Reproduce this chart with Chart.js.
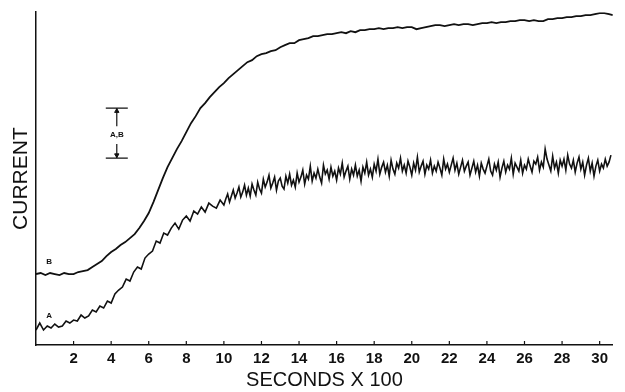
<!DOCTYPE html>
<html>
<head>
<meta charset="utf-8">
<script src="https://cdn.jsdelivr.net/npm/chart.js@4.4.1/dist/chart.umd.min.js"></script>
<style>
  html, body { margin: 0; padding: 0; background: #fff; }
  #wrap { width: 625px; height: 392px; }
</style>
</head>
<body>
<div id="wrap"><canvas id="chart" width="625" height="392"></canvas></div>
<script>
// trace B (upper, smoother) - time in s x 100, current in arbitrary units
const timesB = [0, 0.25, 0.5, 0.75, 1, 1.25, 1.5, 1.75, 2, 2.25, 2.5, 2.75, 3, 3.25, 3.5, 3.75,
  4, 4.25, 4.5, 4.75, 5, 5.25, 5.5, 5.75, 6, 6.25, 6.5, 6.75, 7, 7.25, 7.5, 7.75,
  8, 8.25, 8.5, 8.75, 9, 9.25, 9.5, 9.75, 10, 10.25, 10.5, 10.75, 11, 11.25, 11.5, 11.75,
  12, 12.25, 12.5, 12.75, 13, 13.25, 13.5, 13.75, 14, 14.25, 14.5, 14.75, 15, 15.25, 15.5, 15.75,
  16, 16.25, 16.5, 16.75, 17, 17.25, 17.5, 17.75, 18, 18.25, 18.5, 18.75, 19, 19.25, 19.5, 19.75,
  20, 20.25, 20.5, 20.75, 21, 21.25, 21.5, 21.75, 22, 22.25, 22.5, 22.75, 23, 23.25, 23.5, 23.75,
  24, 24.25, 24.5, 24.75, 25, 25.25, 25.5, 25.75, 26, 26.25, 26.5, 26.75, 27, 27.25, 27.5, 27.75,
  28, 28.25, 28.5, 28.75, 29, 29.25, 29.5, 29.75, 30, 30.25, 30.5, 30.7];
const currentB = [71, 72, 70, 72, 71, 70, 72, 71, 71, 73, 74, 75, 78, 81, 84, 89,
  93, 96, 100, 103, 107, 111, 117, 124, 132, 143, 155, 167, 178, 187, 196, 204,
  213, 222, 229, 237, 242, 248, 253, 258, 262, 267, 271, 275, 279, 283, 285, 289,
  291, 292, 294, 295, 298, 300, 302, 302, 305, 306, 307, 309, 309, 310, 311, 311,
  312, 313, 312, 314, 313, 315, 315, 316, 316, 317, 316, 317, 317, 318, 317, 318,
  318, 316, 317, 318, 319, 320, 320, 319, 320, 321, 320, 321, 321, 320, 321, 322,
  322, 323, 322, 323, 323, 324, 324, 325, 325, 324, 325, 324, 324, 326, 326, 327,
  327, 328, 328, 329, 329, 330, 330, 331, 332, 332, 331, 330];

// trace A (lower, noisy)
const timesA = [0, 0.2, 0.4, 0.6, 0.8, 1, 1.2, 1.4, 1.6, 1.8, 2, 2.2, 2.4, 2.6, 2.8, 3, 3.2, 3.4, 3.6, 3.8,
  4, 4.2, 4.4, 4.6, 4.8, 5, 5.2, 5.4, 5.6, 5.8, 6, 6.2, 6.4, 6.6, 6.8, 7, 7.2, 7.4, 7.6, 7.8,
  8, 8.2, 8.4, 8.6, 8.8, 9, 9.2, 9.4, 9.6, 9.8,
  10, 10.1, 10.2, 10.3, 10.4, 10.5, 10.6, 10.7, 10.8, 10.9,
  11, 11.1, 11.2, 11.3, 11.4, 11.5, 11.6, 11.7, 11.8, 11.9,
  12, 12.1, 12.2, 12.3, 12.4, 12.5, 12.6, 12.7, 12.8, 12.9,
  13, 13.1, 13.2, 13.3, 13.4, 13.5, 13.6, 13.7, 13.8, 13.9,
  14, 14.1, 14.2, 14.3, 14.4, 14.5, 14.6, 14.7, 14.8, 14.9,
  15, 15.1, 15.2, 15.3, 15.4, 15.5, 15.6, 15.7, 15.8, 15.9,
  16, 16.1, 16.2, 16.3, 16.4, 16.5, 16.6, 16.7, 16.8, 16.9,
  17, 17.1, 17.2, 17.3, 17.4, 17.5, 17.6, 17.7, 17.8, 17.9,
  18, 18.1, 18.2, 18.3, 18.4, 18.5, 18.6, 18.7, 18.8, 18.9,
  19, 19.1, 19.2, 19.3, 19.4, 19.5, 19.6, 19.7, 19.8, 19.9,
  20, 20.1, 20.2, 20.3, 20.4, 20.5, 20.6, 20.7, 20.8, 20.9,
  21, 21.1, 21.2, 21.3, 21.4, 21.5, 21.6, 21.7, 21.8, 21.9,
  22, 22.1, 22.2, 22.3, 22.4, 22.5, 22.6, 22.7, 22.8, 22.9,
  23, 23.1, 23.2, 23.3, 23.4, 23.5, 23.6, 23.7, 23.8, 23.9,
  24, 24.1, 24.2, 24.3, 24.4, 24.5, 24.6, 24.7, 24.8, 24.9,
  25, 25.1, 25.2, 25.3, 25.4, 25.5, 25.6, 25.7, 25.8, 25.9,
  26, 26.1, 26.2, 26.3, 26.4, 26.5, 26.6, 26.7, 26.8, 26.9,
  27, 27.1, 27.2, 27.3, 27.4, 27.5, 27.6, 27.7, 27.8, 27.9,
  28, 28.1, 28.2, 28.3, 28.4, 28.5, 28.6, 28.7, 28.8, 28.9,
  29, 29.1, 29.2, 29.3, 29.4, 29.5, 29.6, 29.7, 29.8, 29.9,
  30, 30.1, 30.2, 30.3, 30.4, 30.5, 30.6];
const currentA = [15, 22, 15, 19, 17, 21, 18, 19, 24, 22, 25, 24, 30, 27, 29, 35, 33, 39, 37, 44,
  42, 51, 55, 58, 66, 64, 73, 78, 76, 87, 91, 94, 104, 102, 112, 110, 117, 122, 116, 125,
  129, 124, 134, 131, 138, 133, 142, 139, 137, 145,
  140, 146, 151, 143, 149, 155, 147, 152, 158, 148,
  153, 160, 150, 157, 149, 161, 155, 150, 163, 156,
  152, 166, 158, 163, 170, 157, 162, 168, 155, 164,
  167, 159, 156, 169, 162, 171, 160, 165, 158, 172,
  163, 168, 175, 161, 170, 166, 179, 164, 172, 167,
  176, 168, 162, 180, 171, 175, 166, 178, 169, 174,
  165, 177, 171, 182, 168, 174, 179, 166, 176, 170,
  180, 169, 175, 164, 178, 172, 183, 170, 176, 168,
  181, 174, 186, 171, 178, 183, 173, 180, 169, 185,
  176, 171, 182, 177, 187, 174, 180, 172, 184, 178,
  170, 182, 175, 188, 173, 179, 184, 171, 180, 176,
  185, 172, 179, 174, 183, 177, 170, 186, 176, 181,
  173, 180, 187, 175, 182, 171, 178, 185, 174, 179,
  183, 170, 177, 184, 173, 180, 169, 182, 176, 172,
  179, 186, 174, 170, 181, 175, 183, 168, 177, 184,
  173, 180, 176, 187, 171, 182, 178, 174, 185, 172,
  180, 176, 186, 179, 173, 184, 181, 188, 175, 183,
  178, 196, 186, 180, 174, 189, 177, 183, 172, 185,
  179, 186, 175, 190, 181, 177, 185, 173, 182, 188,
  176, 183, 170, 180, 187, 174, 182, 169, 179, 185,
  174, 181, 177, 186, 179, 183, 190];

// x axis ticks
const tickValues = [2, 4, 6, 8, 10, 12, 14, 16, 18, 20, 22, 24, 26, 28, 30];

// calibration bar for A,B
const scaleBarTime = 4.3;
const scaleBarSpan = [187, 237];
const scaleBarGap = [201, 219];

// trace labels
const traceLabels = ["A", "B"];
const traceLabelTimes = [0.7, 0.7];
const traceLabelLevels = [29, 83];

const FONT = "'Liberation Sans', Arial, Helvetica, sans-serif";
const INK = "#111";

const toPoints = (xs, ys) => xs.map((x, i) => ({ x: x, y: ys[i] }));

// draws small tick marks pointing up into the plot, plus the text labels
const annotations = {
  id: "annotations",
  afterDatasetsDraw(chart) {
    const ctx = chart.ctx;
    const xs = chart.scales.x;
    const ys = chart.scales.y;
    ctx.save();
    ctx.strokeStyle = INK;
    ctx.lineWidth = 1.2;
    tickValues.forEach(function (v) {
      const px = xs.getPixelForValue(v);
      ctx.beginPath();
      ctx.moveTo(px, ys.bottom);
      ctx.lineTo(px, ys.bottom - 4);
      ctx.stroke();
    });

    ctx.fillStyle = INK;
    ctx.textAlign = "center";
    ctx.textBaseline = "middle";
    ctx.font = "bold 8px " + FONT;
    traceLabels.forEach(function (t, i) {
      ctx.fillText(t, xs.getPixelForValue(traceLabelTimes[i]), ys.getPixelForValue(traceLabelLevels[i]));
    });
    const midLevel = (scaleBarGap[0] + scaleBarGap[1]) / 2;
    ctx.fillText("A,B", xs.getPixelForValue(scaleBarTime), ys.getPixelForValue(midLevel));
    ctx.restore();
  },
};

new Chart(document.getElementById("chart"), {
  type: "line",
  data: {
    datasets: [
      {
        data: toPoints(timesB, currentB),
        borderColor: INK,
        borderWidth: 1.8,
        pointRadius: 0,
        tension: 0,
      },
      {
        data: toPoints(timesA, currentA),
        borderColor: INK,
        borderWidth: 1.6,
        pointRadius: 0,
        tension: 0,
      },
      {
        // calibration bar stem, broken for the label
        data: [
          { x: scaleBarTime, y: scaleBarSpan[0] },
          { x: scaleBarTime, y: scaleBarGap[0] },
          { x: scaleBarTime, y: null },
          { x: scaleBarTime, y: scaleBarGap[1] },
          { x: scaleBarTime, y: scaleBarSpan[1] },
        ],
        borderColor: INK,
        borderWidth: 1.2,
        pointRadius: 0,
        spanGaps: false,
      },
      {
        // end caps
        data: [
          { x: scaleBarTime, y: scaleBarSpan[0] },
          { x: scaleBarTime, y: scaleBarSpan[1] },
        ],
        showLine: false,
        pointStyle: "line",
        pointRadius: 11,
        borderColor: INK,
        borderWidth: 1.2,
      },
      {
        // arrow heads
        data: [
          { x: scaleBarTime, y: scaleBarSpan[0] + 3 },
          { x: scaleBarTime, y: scaleBarSpan[1] - 3 },
        ],
        showLine: false,
        pointStyle: "triangle",
        pointRadius: 2.5,
        rotation: [180, 0],
        backgroundColor: INK,
        borderColor: INK,
        borderWidth: 1,
      },
    ],
  },
  options: {
    responsive: false,
    animation: false,
    layout: { padding: { top: 12, right: 3, left: 0, bottom: 0 } },
    plugins: {
      legend: { display: false },
      tooltip: { enabled: false },
    },
    scales: {
      x: {
        type: "linear",
        min: 0,
        max: 30.7,
        border: { display: true, color: INK, width: 1.5 },
        grid: { display: false, drawTicks: false },
        afterBuildTicks: function (scale) {
          scale.ticks = tickValues.map((v) => ({ value: v }));
        },
        ticks: {
          color: INK,
          padding: 5,
          maxRotation: 0,
          autoSkip: false,
          font: { family: FONT, size: 15, weight: "bold" },
        },
        title: {
          display: true,
          text: "SECONDS X 100",
          color: INK,
          padding: { top: 2, bottom: 0 },
          font: { family: FONT, size: 20 },
        },
        afterFit: function (scale) {
          scale.height = 47;
        },
      },
      y: {
        min: 0,
        max: 333,
        border: { display: true, color: INK, width: 1.5 },
        grid: { display: false, drawTicks: false },
        ticks: { display: false },
        title: {
          display: true,
          text: "CURRENT",
          color: INK,
          padding: { top: 9, bottom: 0 },
          font: { family: FONT, size: 21 },
        },
        afterFit: function (scale) {
          scale.width = 36;
        },
      },
    },
  },
  plugins: [annotations],
});
</script>
</body>
</html>
